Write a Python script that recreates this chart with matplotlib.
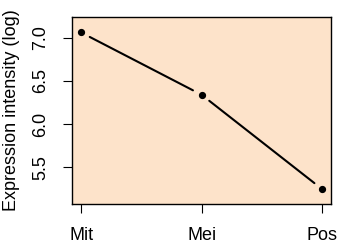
import numpy as np
import matplotlib
matplotlib.use("Agg")
import matplotlib.pyplot as plt

# datos
stages = ["Mit", "Mei", "Pos"]
expression = [7.06, 6.34, 5.25]
yticks = [5.5, 6.0, 6.5, 7.0]

plt.rcParams['font.family'] = ['Liberation Sans', 'DejaVu Sans']

fig = plt.figure(figsize=(3.5, 2.5), dpi=100)
ax = fig.add_axes([0.206, 0.184, 0.740, 0.748])
ax.set_facecolor("#FDE3CA")

x = np.arange(1, len(stages) + 1)
ax.plot(x, expression, "o", color="black", markersize=4.2, zorder=3)

# estilo type="b": segmentos con hueco alrededor de los puntos
for i in range(len(x) - 1):
    ax.annotate("", xy=(x[i + 1], expression[i + 1]), xytext=(x[i], expression[i]),
                arrowprops=dict(arrowstyle="-", color="black", lw=1.5,
                                shrinkA=7, shrinkB=7))

ax.set_xlim(0.925, 3.075)
ax.set_ylim(5.078, 7.239)
ax.set_xticks(x)
ax.set_xticklabels(stages)
ax.set_yticks(yticks)
ax.set_yticklabels([f"{v:.1f}" for v in yticks], rotation=90, va="center")
ax.tick_params(direction="out", length=6.5, width=0.8, labelsize=13)
ax.tick_params(axis="x", pad=10)
ax.tick_params(axis="y", pad=10)
for s in ax.spines.values():
    s.set_linewidth(1.0)
ax.set_ylabel("Expression intensity (log)", fontsize=13, labelpad=9)

fig.savefig("out.png", dpi=100)
